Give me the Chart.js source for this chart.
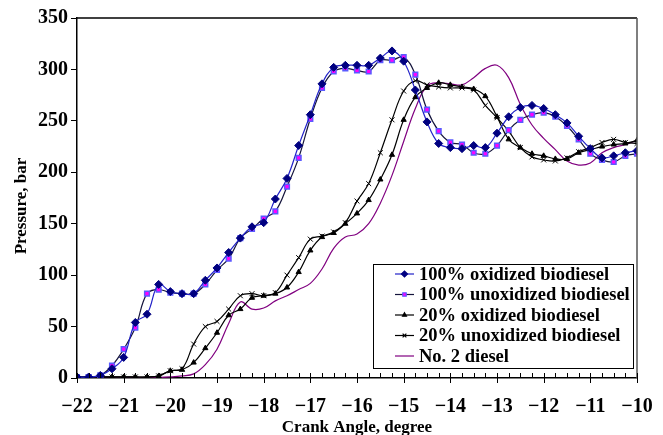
<!DOCTYPE html>
<html><head><meta charset="utf-8">
<script src="https://cdn.jsdelivr.net/npm/chart.js@4"></script>
<style>html,body{margin:0;padding:0;background:#fff;}#wrap{width:663px;height:435px;position:relative;}</style>
</head><body><div id="wrap"><canvas id="c" width="663" height="435"></canvas></div>
<script>
// Crank angle (degree)
const crankAngle = [-22,-21.75,-21.5,-21.25,-21,-20.75,-20.5,-20.25,-20,-19.75,-19.5,-19.25,-19,-18.75,-18.5,-18.25,-18,-17.75,-17.5,-17.25,-17,-16.75,-16.5,-16.25,-16,-15.75,-15.5,-15.25,-15,-14.75,-14.5,-14.25,-14,-13.75,-13.5,-13.25,-13,-12.75,-12.5,-12.25,-12,-11.75,-11.5,-11.25,-11,-10.75,-10.5,-10.25,-10];
// Pressure, bar
const oxidized100 = [1,1,2.5,9,20,54,62,91,84,82,82,95,107,122,136,147,151,174,194,226,256,286,302,304,304,304,311,318,308,280,249,228,224,223,226,224,238,254,263,265,262,256,248,235,223,214,216,219,221];
const unoxidized100 = [1,1,2.5,12,28,49,82,86,83,82,82,91,105,116,136,145,155,162,186,214,252,282,298,301,299,298,309,309,312,295,261,240,229,227,219,218,226,241,251,256,258,254,245,232,218,212,210,216,218];
const oxidized20 = [1,1,1,1,1,1,1,2,7,8,15,29,44,61,67,78,80,82,88,103,124,137,141,150,160,173,193,217,251,273,282,287,285,283,281,274,254,232,224,218,216,213,213,219,222,225,227,228,231];
const unoxidized20 = [1,1,1,1,1,1,1,2,7,9,33,50,55,67,80,82,80,83,100,117,135,138,142,151,172,189,219,251,279,289,285,283,282,282,280,265,253,240,224,215,212,211,214,220,224,229,232,229,228];
const diesel2 = [0,0,0,0,0,0,0.5,0.5,1,2,4,13,28,53,74,67,68,75,80,86,92,106,126,137,140,150,170,197,230,262,284,287,286,285,292,301,304,292,266,246,233,222,211,207,209,219,224,227,231];
const seriesNames = ['100% oxidized biodiesel','100% unoxidized biodiesel','20% oxidized biodiesel','20% unoxidized biodiesel','No. 2 diesel'];
const xTicks = [-22,-21,-20,-19,-18,-17,-16,-15,-14,-13,-12,-11,-10];
const yTicks = [0,50,100,150,200,250,300,350];
const yTitle = 'Pressure, bar';
const xTitle = 'Crank Angle, degree';

const pts = arr => arr.map((v,i)=>({x:crankAngle[i], y:v}));
const FONT = 'Liberation Serif';

const framePlugin = {
  id:'frame',
  afterDraw(chart){
    const {ctx, chartArea:a} = chart;
    const xs = chart.scales.x;
    ctx.save();
    ctx.strokeStyle='#000'; ctx.lineWidth=1.5;
    ctx.beginPath(); ctx.moveTo(a.left,a.top); ctx.lineTo(a.right,a.top); ctx.stroke();
    ctx.strokeStyle='#555';
    ctx.beginPath(); ctx.moveTo(a.right,a.top); ctx.lineTo(a.right,a.bottom); ctx.stroke();
    ctx.strokeStyle='#000'; ctx.lineWidth=1;
    for (let i=0;i<crankAngle.length;i++){
      const v = crankAngle[i];
      const px = Math.round(xs.getPixelForValue(v))+0.5;
      const major = Number.isInteger(v);
      ctx.beginPath();
      ctx.moveTo(px, a.bottom-5);
      ctx.lineTo(px, a.bottom + (major?5:0));
      ctx.stroke();
    }
    // y axis title
    ctx.translate(22, (a.top+a.bottom)/2 + 8);
    ctx.rotate(-Math.PI/2);
    ctx.fillStyle='#000'; ctx.font='bold 17px "'+FONT+'"'; ctx.textAlign='center'; ctx.textBaseline='middle';
    ctx.fillText(yTitle, 0, 0);
    ctx.restore();
  }
};

const legendPlugin = {
  id:'boxLegend',
  afterDraw(chart){
    const ctx = chart.ctx;
    ctx.save();
    const bx=373, by=264, bw=260, bh=104;
    ctx.fillStyle='#fff'; ctx.fillRect(bx,by,bw,bh);
    ctx.strokeStyle='#000'; ctx.lineWidth=1; ctx.strokeRect(bx+0.5,by+0.5,bw,bh);
    chart.data.datasets.forEach((ds,i)=>{
      const y = 274 + i*20.5;
      ctx.strokeStyle = ds.borderColor; ctx.lineWidth = ds.borderWidth;
      ctx.beginPath(); ctx.moveTo(395,y); ctx.lineTo(414,y); ctx.stroke();
      if (ds.pointRadius>0){
        ctx.fillStyle = ds.pointBackgroundColor; ctx.strokeStyle = ds.pointBorderColor;
        Chart.helpers.drawPoint(ctx,{pointStyle:ds.pointStyle, radius:ds.pointRadius*0.75, borderWidth:ds.pointBorderWidth, rotation:0},404.5,y);
      }
      ctx.fillStyle='#000'; ctx.font='bold 18.5px "'+FONT+'"'; ctx.textBaseline='middle'; ctx.textAlign='left';
      ctx.fillText(ds.label, 419, y+1);
    });
    ctx.restore();
  }
};

const common = {fill:false, tension:0.4, borderWidth:1.2};
new Chart(document.getElementById('c'), {
  type:'line',
  data:{ datasets:[
    Object.assign({label:seriesNames[0], data:pts(oxidized100), borderColor:'#2222c8', pointStyle:'rectRot', pointRadius:4, pointBackgroundColor:'#000080', pointBorderColor:'#000080', pointBorderWidth:1}, common),
    Object.assign({label:seriesNames[1], data:pts(unoxidized100), borderColor:'#14143c', pointStyle:'rect', pointRadius:3.3, pointBackgroundColor:'#ff00ff', pointBorderColor:'#5a5aff', pointBorderWidth:1.5}, common),
    Object.assign({label:seriesNames[2], data:pts(oxidized20), borderColor:'#000000', pointStyle:'triangle', pointRadius:3, pointBackgroundColor:'#000', pointBorderColor:'#000', pointBorderWidth:1}, common),
    Object.assign({label:seriesNames[3], data:pts(unoxidized20), borderColor:'#000000', pointStyle:'crossRot', pointRadius:3.5, pointBackgroundColor:'#000', pointBorderColor:'#000', pointBorderWidth:1}, common),
    Object.assign({label:seriesNames[4], data:pts(diesel2), borderColor:'#800080', pointStyle:'circle', pointRadius:0, pointBackgroundColor:'#800080', pointBorderColor:'#800080', pointBorderWidth:0}, common)
  ]},
  options:{
    responsive:false, animation:false, devicePixelRatio:1,
    layout:{padding:{top:18, right:26, left:0, bottom:0}},
    plugins:{legend:{display:false}, tooltip:{enabled:false}},
    scales:{
      x:{type:'linear', min:-22, max:-10,
        afterBuildTicks: s => { s.ticks = xTicks.map(v=>({value:v})); },
        afterFit: s => { s.height = 57; s.paddingLeft = 0; s.paddingRight = 0; },
        ticks:{color:'#000', padding:17, autoSkip:false, maxRotation:0, font:{family:FONT, size:20, weight:'bold'},
          callback: v => (v<0?'\u2212':'')+Math.abs(v)},
        grid:{drawOnChartArea:false, drawTicks:false},
        border:{color:'#000', width:1.5},
        title:{display:true, text:xTitle, color:'#000', font:{family:FONT, size:17, weight:'bold', lineHeight:1}, padding:{top:0,bottom:-1}}
      },
      y:{min:0, max:350,
        afterBuildTicks: s => { s.ticks = yTicks.map(v=>({value:v})); },
        afterFit: s => { s.width = 77; s.paddingTop = 0; s.paddingBottom = 0; },
        ticks:{color:'#000', padding:3, font:{family:FONT, size:20, weight:'bold'}},
        grid:{drawOnChartArea:false, drawTicks:true, tickLength:6, color:'#000'},
        border:{color:'#000', width:1.5},
        title:{display:false}
      }
    }
  },
  plugins:[framePlugin, legendPlugin]
});
</script></body></html>
